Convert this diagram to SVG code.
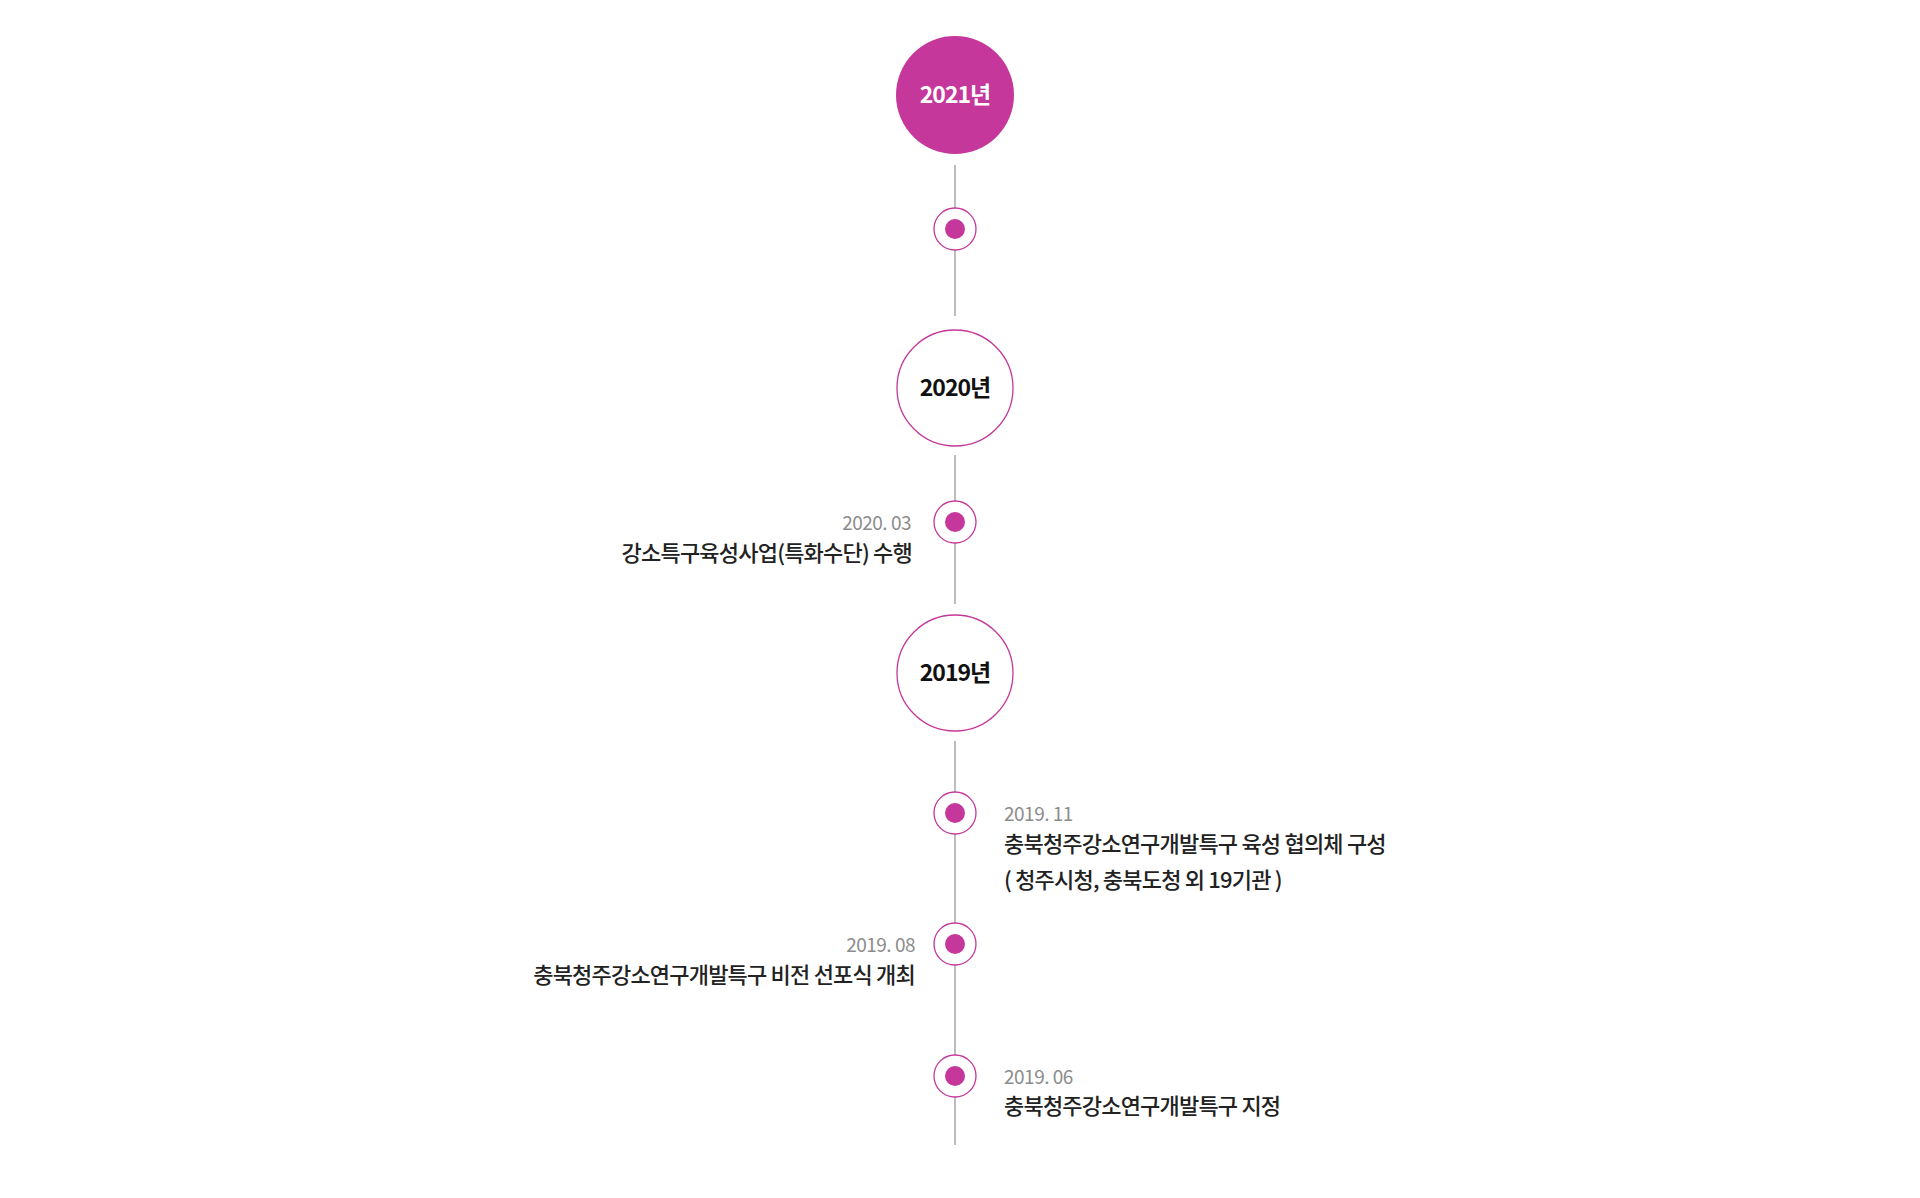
<svg xmlns="http://www.w3.org/2000/svg" width="1920" height="1198" viewBox="0 0 1920 1198">
<style>
text{font-family:"Noto Sans CJK KR","Noto Sans",sans-serif}
.yr{font-size:23px;font-weight:700;text-anchor:middle;letter-spacing:-1px}
.dt{font-size:19px;fill:#8c8c8c;letter-spacing:-0.5px}
.lb{font-size:22px;fill:#222;font-weight:500;letter-spacing:-0.8px}
.ring{fill:#fff;stroke:#c5379a;stroke-width:1.3}
.dot{fill:#c5379a}
.ln{stroke:#999;stroke-width:1.3}
</style>
<rect width="1920" height="1198" fill="#fff"/>
<g id="connectors">
<line class="ln" x1="955" y1="165" x2="955" y2="316"/>
<line class="ln" x1="955" y1="455" x2="955" y2="604"/>
<line class="ln" x1="955" y1="741" x2="955" y2="1145"/>
</g>
<g id="y2021"><circle cx="955" cy="95" r="59" fill="#c5379a"/><text class="yr" x="955" y="103" fill="#fff">2021년</text></g>
<g id="d1"><circle class="ring" cx="955" cy="229" r="21"/><circle class="dot" cx="955" cy="229" r="10"/></g>
<g id="y2020"><circle class="ring" cx="955" cy="388" r="58" stroke-width="2"/><text class="yr" x="955" y="396" fill="#111">2020년</text></g>
<g id="d2020_03"><circle class="ring" cx="955" cy="522" r="21"/><circle class="dot" cx="955" cy="522" r="10"/>
<text class="dt" x="911" y="530" text-anchor="end">2020. 03</text>
<text class="lb" x="912" y="561" text-anchor="end">강소특구육성사업(특화수단) 수행</text></g>
<g id="y2019"><circle class="ring" cx="955" cy="673" r="58" stroke-width="2"/><text class="yr" x="955" y="681" fill="#111">2019년</text></g>
<g id="d2019_11"><circle class="ring" cx="955" cy="813" r="21"/><circle class="dot" cx="955" cy="813" r="10"/>
<text class="dt" x="1004" y="821">2019. 11</text>
<text class="lb" x="1004" y="852">충북청주강소연구개발특구 육성 협의체 구성</text>
<text class="lb" x="1004" y="888">( 청주시청, 충북도청 외 19기관 )</text></g>
<g id="d2019_08"><circle class="ring" cx="955" cy="944" r="21"/><circle class="dot" cx="955" cy="944" r="10"/>
<text class="dt" x="915" y="952" text-anchor="end">2019. 08</text>
<text class="lb" x="915" y="983" text-anchor="end">충북청주강소연구개발특구 비전 선포식 개최</text></g>
<g id="d2019_06"><circle class="ring" cx="955" cy="1076" r="21"/><circle class="dot" cx="955" cy="1076" r="10"/>
<text class="dt" x="1004" y="1084">2019. 06</text>
<text class="lb" x="1004" y="1114">충북청주강소연구개발특구 지정</text></g>
</svg>
